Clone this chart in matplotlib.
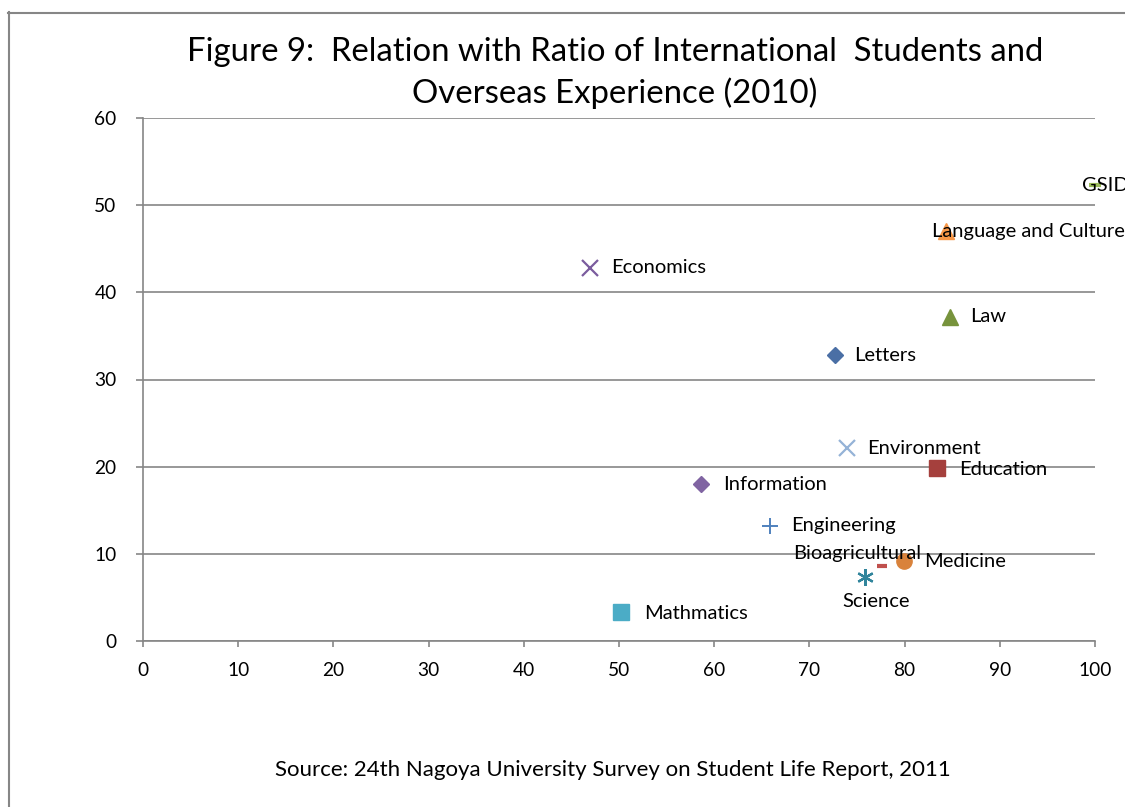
import matplotlib
matplotlib.use("Agg")
import matplotlib.pyplot as plt
from matplotlib.lines import Line2D

plt.rcParams['font.family'] = ['Lato', 'DejaVu Sans']

# Faculty / school names with (ratio of international students, overseas experience)
faculties = ["Economics", "Letters", "Law", "Language and Culture", "GSID",
             "Environment", "Education", "Information", "Engineering",
             "Bioagricultural", "Medicine", "Science", "Mathmatics"]
x_vals = [47.0, 72.7, 84.8, 84.3, 100.0, 73.9, 83.4, 58.6, 65.9, 77.6, 79.9, 75.8, 50.2]
y_vals = [42.8, 32.8, 37.2, 47.0, 52.3, 22.1, 19.8, 18.0, 13.2, 8.6, 9.2, 7.3, 3.3]

x_ticks = [0, 10, 20, 30, 40, 50, 60, 70, 80, 90, 100]
y_ticks = [0, 10, 20, 30, 40, 50, 60]

title = "Figure 9:  Relation with Ratio of International  Students and\nOverseas Experience (2010)"
source = "Source: 24th Nagoya University Survey on Student Life Report, 2011"

# marker style per faculty: (marker, colour, size, edge width, filled)
styles = {
    "Economics":            ("x", "#7B5C9E", 12, 1.6, False),
    "Letters":              ("D", "#4A6FA5", 8, 1.0, True),
    "Law":                  ("^", "#77933C", 12, 1.0, True),
    "Language and Culture": ("^", "#F79646", 12, 1.0, True),
    "GSID":                 ("_", "#9BBB59", 9, 3.0, False),
    "Environment":          ("x", "#95B3D7", 12, 1.6, False),
    "Education":            ("s", "#A5403D", 11, 1.0, True),
    "Information":          ("D", "#8064A2", 8, 1.0, True),
    "Engineering":          ("+", "#4F81BD", 12, 1.4, False),
    "Bioagricultural":      ("_", "#C0504D", 7, 3.0, False),
    "Medicine":             ("o", "#D9823B", 11, 1.0, True),
    "Science":              ((6, 2, 0), "#31859C", 12, 1.6, False),
    "Mathmatics":           ("s", "#4BACC6", 11, 1.0, True),
}

# label offsets in pixels from the marker, with horizontal alignment
label_pos = {
    "Economics":            (21, 0, "left"),
    "Letters":              (19, 0, "left"),
    "Law":                  (20, 0, "left"),
    "Language and Culture": (-14, 0, "left"),
    "GSID":                 (-13, 0, "left"),
    "Environment":          (21, 0, "left"),
    "Education":            (22, -1, "left"),
    "Information":          (22, 0, "left"),
    "Engineering":          (21, 0, "left"),
    "Bioagricultural":      (-89, 13, "left"),
    "Medicine":             (20, -1, "left"),
    "Science":              (11, -24, "center"),
    "Mathmatics":           (23, -1, "left"),
}

fig = plt.figure(figsize=(11.25, 8.07), dpi=100)
ax = fig.add_axes([143 / 1125, 1 - 641 / 807, (1095 - 143) / 1125, (641 - 118) / 807])

grid_col = "#868686"
ax.set_xlim(0, 100)
ax.set_ylim(0, 60)
ax.set_xticks(x_ticks)
ax.set_yticks(y_ticks)
ax.yaxis.grid(True, color=grid_col, linewidth=1.2)
ax.set_axisbelow(True)
for s in ("top", "right"):
    ax.spines[s].set_visible(False)
for s in ("left", "bottom"):
    ax.spines[s].set_color(grid_col)
    ax.spines[s].set_linewidth(1.2)
ax.tick_params(axis="x", direction="out", length=4, width=1.2, color=grid_col,
               labelsize=13.8, pad=11)
ax.tick_params(axis="y", direction="out", length=5, width=1.2, color=grid_col,
               labelsize=13.8, pad=14)

for name, xv, yv in zip(faculties, x_vals, y_vals):
    m, c, ms, mew, filled = styles[name]
    if filled:
        ax.plot([xv], [yv], linestyle="none", marker=m, markersize=ms,
                markerfacecolor=c, markeredgecolor=c, markeredgewidth=mew,
                clip_on=False, zorder=3)
    else:
        ax.plot([xv], [yv], linestyle="none", marker=m, markersize=ms,
                color=c, markeredgewidth=mew, clip_on=False, zorder=3)
    dx, dy, ha = label_pos[name]
    ax.annotate(name, (xv, yv), xytext=(dx, dy), textcoords="offset pixels",
                ha=ha, va="center", fontsize=14.5, color="#000000",
                annotation_clip=False, zorder=4)

fig.text(615 / 1125, 1 - 73 / 807, title, ha="center", va="center",
         fontsize=23.7, linespacing=1.42)
fig.text(613 / 1125, 1 - 770 / 807, source, ha="center", va="center", fontsize=16)

# outer chart frame (left and top edges)
fig.add_artist(Line2D([8.5 / 1125, 8.5 / 1125], [0, 1 - 12 / 807],
                      transform=fig.transFigure, color=grid_col, linewidth=1.5))
fig.add_artist(Line2D([8 / 1125, 1], [1 - 12.5 / 807, 1 - 12.5 / 807],
                      transform=fig.transFigure, color=grid_col, linewidth=1.5))

fig.savefig("out.png", dpi=100, facecolor="white")
